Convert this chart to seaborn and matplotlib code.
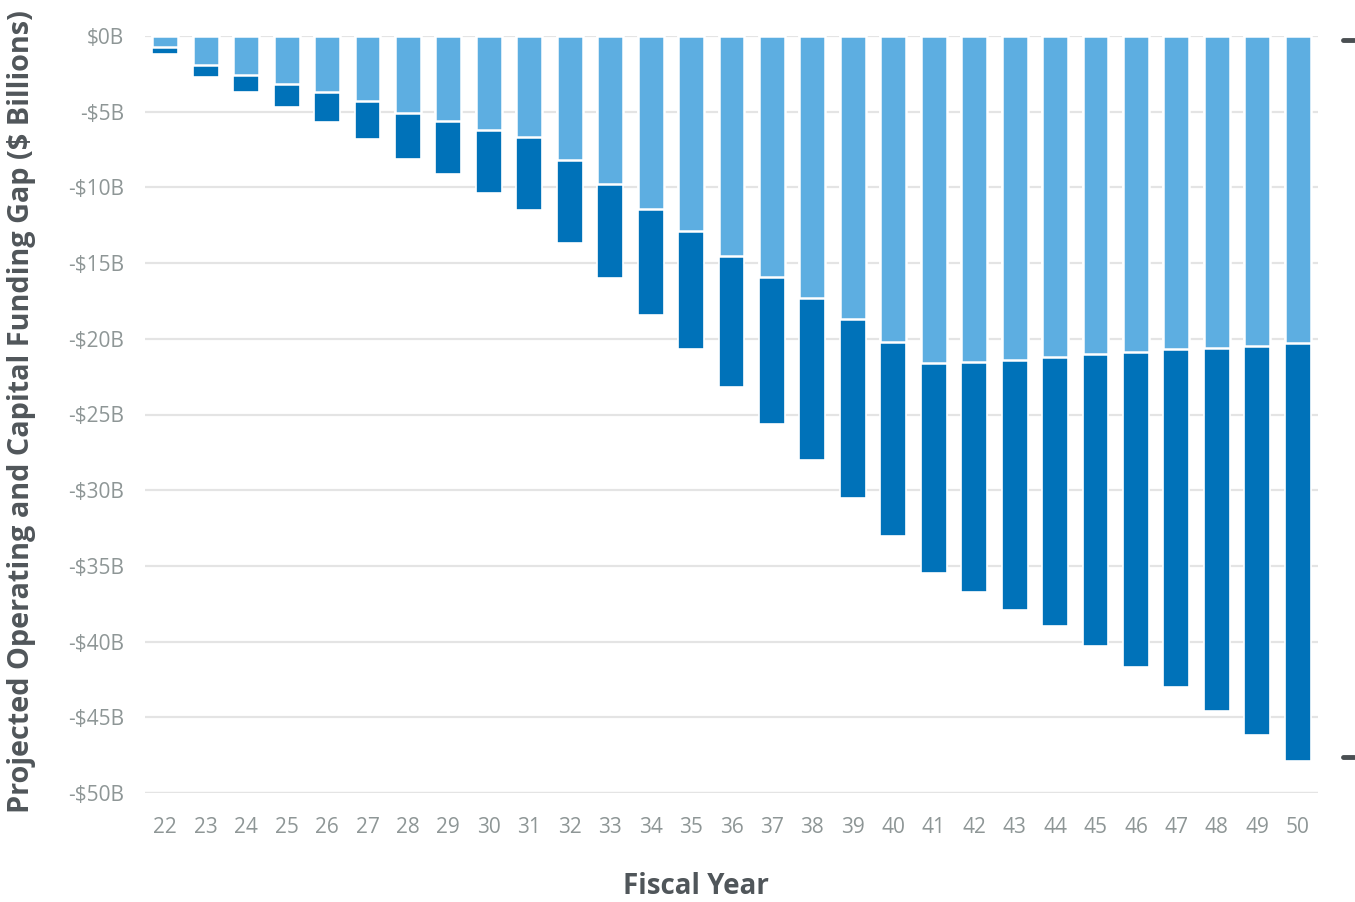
import matplotlib
matplotlib.use('Agg')
import matplotlib.pyplot as plt
import seaborn as sns
import pandas as pd
from matplotlib.ticker import FuncFormatter

# Fiscal years (two-digit) and funding gap, $ billions
years = ['22', '23', '24', '25', '26', '27', '28', '29', '30', '31', '32', '33', '34', '35',
         '36', '37', '38', '39', '40', '41', '42', '43', '44', '45', '46', '47', '48', '49', '50']
# bottom of the light segment (operating gap)
operating_gap = [-0.7, -1.9, -2.6, -3.2, -3.7, -4.3, -5.1, -5.6, -6.2, -6.7, -8.2, -9.8, -11.4, -12.9,
                 -14.5, -15.9, -17.3, -18.7, -20.2, -21.6, -21.5, -21.4, -21.2, -21.0, -20.9, -20.7,
                 -20.6, -20.5, -20.3]
# bottom of the dark segment (operating + capital gap)
total_gap = [-1.2, -2.7, -3.7, -4.7, -5.7, -6.8, -8.1, -9.1, -10.4, -11.5, -13.7, -16.0, -18.4, -20.7,
             -23.2, -25.6, -28.0, -30.5, -33.0, -35.5, -36.7, -37.9, -39.0, -40.3, -41.7, -43.0,
             -44.6, -46.2, -47.9]
y_ticks = [0, -5, -10, -15, -20, -25, -30, -35, -40, -45, -50]

df = pd.DataFrame({'year': years, 'operating': operating_gap, 'total': total_gap})

LIGHT = '#5daee1'
DARK = '#0072b9'
TICK_GRAY = '#8e9696'
LABEL_GRAY = '#50565a'

sns.set_theme(style='white')
plt.rcParams['font.family'] = ['Open Sans', 'DejaVu Sans']

fig = plt.figure(figsize=(13.55, 9.02), dpi=100)
ax = fig.add_axes([145 / 1355, 1 - 793 / 902, (1318 - 145) / 1355, (793 - 36) / 902])

# dark bars run to the total; light bars drawn over them up to the operating gap
sns.barplot(data=df, x='year', y='total', color=DARK, saturation=1, width=0.64,
            edgecolor='white', linewidth=1.2, ax=ax, zorder=3)
sns.barplot(data=df, x='year', y='operating', color=LIGHT, saturation=1, width=0.64,
            edgecolor='white', linewidth=1.8, ax=ax, zorder=4)

ax.set_ylim(-50, 0)
ax.set_xlim(-0.5, len(years) - 0.5)
ax.set_yticks(y_ticks)
ax.yaxis.set_major_formatter(FuncFormatter(lambda v, p: '$0B' if v == 0 else f'-${abs(v):.0f}B'))
ax.grid(axis='y', color='#e4e4e4', linewidth=1.6, zorder=0)
ax.grid(axis='x', visible=False)
for s in ax.spines.values():
    s.set_visible(False)
ax.axhline(-50, color='#e4e4e4', linewidth=1.6, zorder=1)
ax.tick_params(axis='both', length=0, labelsize=15, colors=TICK_GRAY)
ax.tick_params(axis='y', pad=15)
ax.tick_params(axis='x', pad=17)
ax.set_xlabel('')
ax.set_ylabel('')

fig.text(22 / 1355, 1 - 412 / 902, 'Projected Operating and Capital Funding Gap ($ Billions)',
         rotation=90, ha='center', va='center', fontsize=20.8, fontweight='bold', color=LABEL_GRAY)
fig.text(696 / 1355, 1 - 886 / 902, 'Fiscal Year', ha='center', va='center',
         fontsize=20, fontweight='bold', color=LABEL_GRAY)

# two small markers at the right edge
for yy in (40, 757):
    fig.add_artist(plt.Line2D([1343 / 1355, 1354 / 1355], [1 - yy / 902, 1 - yy / 902],
                              color='#4a4f52', linewidth=3.5))

fig.savefig('out.png', dpi=100)
